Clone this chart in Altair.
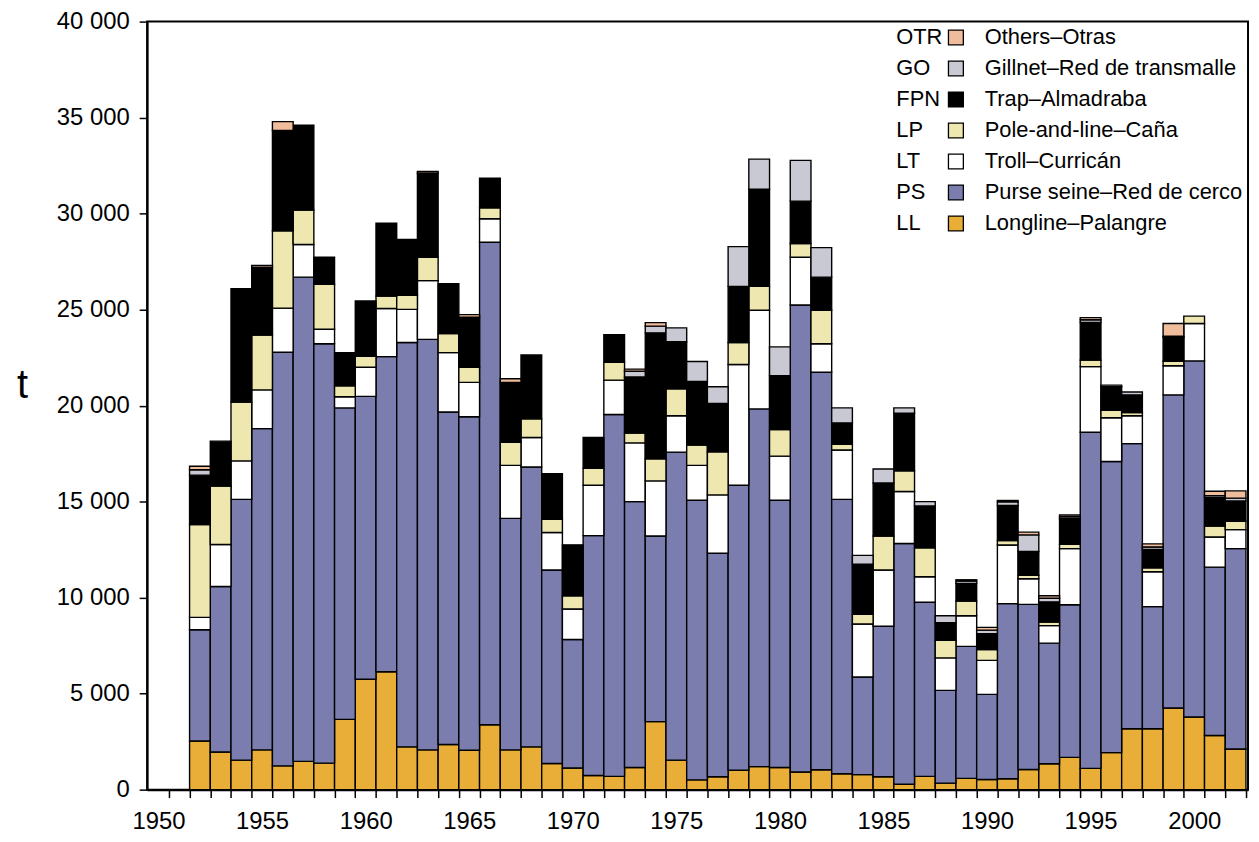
import altair as alt
import pandas as pd

years = list(range(1952, 2003))
codes = ["LL", "PS", "LT", "LP", "FPN", "GO", "OTR"]
names = ["Longline–Palangre", "Purse seine–Red de cerco", "Troll–Curricán",
         "Pole-and-line–Caña", "Trap–Almadraba", "Gillnet–Red de transmalle", "Others–Otras"]
colors = ["#E9AE37", "#7A7DAD", "#FFFFFF", "#EEE8B0", "#000000", "#C9C9D3", "#F0BD9C"]

LL = [2530, 1960, 1540, 2070, 1240, 1470, 1380, 3660, 5750, 6140, 2230, 2070, 2350, 2050, 3380,
      2070, 2230, 1360, 1130, 740, 690, 1150, 3540, 1540, 510, 670, 1010, 1200, 1150, 920, 1040,
      830, 780, 670, 280, 690, 340, 590, 530, 570, 1050, 1350, 1680, 1110, 1930, 3170, 3170,
      4250, 3780, 2820, 2120]
PS = [5800, 8620, 13580, 16730, 21540, 25220, 21840, 16220, 14730, 16410, 21060, 21380, 17320,
      17370, 25130, 12060, 14570, 10080, 6690, 12490, 18850, 13850, 9670, 16040, 14560, 11640,
      14840, 18630, 13920, 24320, 20700, 14290, 5090, 7840, 12540, 9070, 4830, 6870, 4430, 9120,
      8600, 6280, 7950, 17500, 15160, 14850, 6360, 16310, 18550, 8770, 10430]
LT = [640, 2190, 2000, 2020, 2300, 1700, 760, 580, 1520, 2510, 1720, 3060, 3090, 1790, 1220,
      2760, 1540, 1950, 1590, 2620, 1790, 3060, 2870, 1890, 1820, 3040, 6290, 5140, 2300, 2490,
      1480, 2570, 2760, 2930, 2710, 1330, 1690, 1600, 1770, 3050, 1330, 910, 2920, 3420, 2280,
      1450, 1820, 1520, 1950, 1570, 990]
LP = [4830, 3040, 3060, 2860, 4030, 1800, 2340, 570, 570, 640, 740, 1220, 990, 790, 570, 1200,
      970, 690, 690, 880, 920, 510, 1150, 1400, 1060, 2250, 1150, 1240, 1380, 710, 1750, 300,
      500, 1770, 1080, 1500, 920, 760, 570, 230, 180, 190, 230, 340, 390, 170, 210, 230, 380,
      570, 440]
FPN = [2580, 2340, 5910, 3520, 5220, 4420, 1410, 1730, 2880, 3800, 2900, 4370, 2600, 2600, 1550,
       3120, 3330, 2370, 2650, 1610, 1450, 2920, 6560, 2460, 3310, 2510, 2920, 5060, 2810, 2210,
       1720, 1110, 2610, 2760, 2990, 2180, 920, 920, 820, 1830, 1240, 1050, 1330, 1960, 1220,
       920, 950, 1240, 0, 1490, 1050]
GO = [280, 0, 0, 0, 0, 0, 0, 0, 0, 0, 0, 0, 0, 0, 0, 0, 0, 0, 0, 0, 0, 300, 350, 720, 1040, 870,
      2070, 1570, 1500, 2120, 1540, 780, 460, 730, 280, 230, 360, 130, 190, 190, 870, 190, 100,
      140, 90, 150, 130, 60, 0, 90, 150]
OTR = [180, 0, 0, 100, 460, 0, 0, 0, 0, 0, 0, 90, 0, 140, 0, 190, 0, 0, 0, 0, 0, 110, 180, 0, 0,
       0, 0, 0, 0, 0, 0, 0, 0, 0, 0, 0, 0, 60, 140, 70, 140, 130, 90, 110, 0, 0, 160, 670, 0, 230,
       380]

series = [LL, PS, LT, LP, FPN, GO, OTR]
rows = []
for k, (code, name, vals) in enumerate(zip(codes, names, series)):
    for yr, v in zip(years, vals):
        rows.append({"year": yr, "code": code, "name": name, "ord": k, "value": v})
df = pd.DataFrame(rows)

x_ticks = list(range(1950, 2003))
y_ticks = list(range(0, 40001, 5000))
FONT = "Liberation Sans"
CLEAR = "rgba(0,0,0,0)"

chart = (
    alt.Chart(df)
    .transform_filter("datum.value > 0")
    .transform_calculate(x0="datum.year - 0.5", x1="datum.year + 0.5")
    .transform_stack(stack="value", groupby=["year"], as_=["y0", "y1"],
                     sort=[alt.SortField("ord", order="ascending")])
    .mark_bar(stroke="black", strokeWidth=1.4)
    .encode(
        x=alt.X("x0:Q",
                scale=alt.Scale(domain=[1949.45, 2002.6], nice=False, zero=False),
                axis=alt.Axis(values=x_ticks, title=None, grid=False,
                              labelExpr="datum.value % 5 == 0 ? format(datum.value, 'd') : ''",
                              labelOverlap=False, labelFlush=False,
                              labelFontSize=24, labelFont=FONT, labelColor="black",
                              labelPadding=12, tickSize=8, tickColor="black", tickWidth=1.5,
                              tickOffset=10.4, labelOffset=-10.4,
                              domainColor="black", domainWidth=2)),
        x2="x1:Q",
        y=alt.Y("y0:Q",
                scale=alt.Scale(domain=[0, 40000], nice=False),
                axis=alt.Axis(values=y_ticks, grid=False, title="t",
                              labelExpr="replace(format(datum.value, ','), ',', ' ')",
                              labelFontSize=24, labelFont=FONT, labelColor="black",
                              labelPadding=10, tickSize=8, tickColor="black", tickWidth=1.5,
                              domainColor="black", domainWidth=2,
                              titleAngle=0, titleX=-126, titleY=366, titleAlign="center",
                              titleBaseline="middle", titleFontSize=40, titleFont=FONT,
                              titleFontWeight="normal", titleColor="black")),
        y2="y1:Q",
        color=alt.Color("name:N",
                        scale=alt.Scale(domain=names[::-1], range=colors[::-1]),
                        legend=alt.Legend(title=None, orient="none", legendX=803, legendY=5,
                                          symbolType="square", symbolSize=225,
                                          symbolStrokeColor="black", symbolStrokeWidth=1.3,
                                          labelFontSize=22, labelFont=FONT, labelColor="black",
                                          labelOffset=18, rowPadding=9.2, padding=0,
                                          labelLimit=400)),
        opacity=alt.Opacity("code:N",
                            scale=alt.Scale(domain=codes[::-1], range=[1] * 7),
                            legend=alt.Legend(title=None, orient="none", legendX=730, legendY=5,
                                              symbolType="square", symbolSize=225,
                                              symbolFillColor=CLEAR, symbolStrokeColor=CLEAR,
                                              symbolStrokeWidth=0,
                                              labelFontSize=22, labelFont=FONT, labelColor="black",
                                              labelOffset=2, rowPadding=9.2, padding=0)),
    )
    .properties(width=1108, height=773,
                autosize=alt.AutoSizeParams(type="none"),
                padding={"left": 140, "top": 11, "right": 3, "bottom": 49})
    .configure_view(stroke="black", strokeWidth=2)
)

chart.save("out.html", embed_options={"renderer": "svg", "actions": False})
